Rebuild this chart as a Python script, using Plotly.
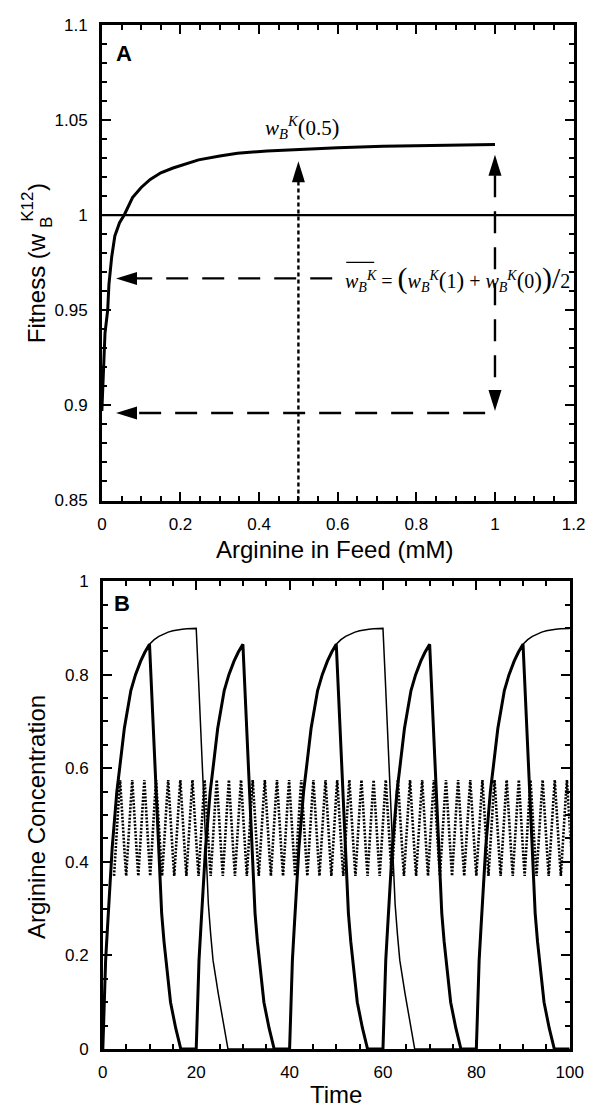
import plotly.graph_objects as go

W, H = 606, 1119

# ---------------- Panel A data ----------------
feed_x = [0, 0.002, 0.004, 0.008, 0.0148, 0.018, 0.025, 0.033, 0.045, 0.0575, 0.078, 0.1,
          0.123, 0.15, 0.181, 0.246, 0.3, 0.345, 0.42, 0.501, 0.6, 0.715, 0.85, 1.0]
fitness = [0.897, 0.906, 0.919, 0.938, 0.950, 0.9636, 0.978, 0.989, 0.996, 1.0003, 1.0092, 1.0145,
           1.0187, 1.0222, 1.0247, 1.029, 1.031, 1.0325, 1.0337, 1.0346, 1.0354, 1.0362, 1.0367, 1.0371]
k12_x = [0, 1.2]
k12_y = [1.0, 1.0]

half_feed = 0.5
w_half_tip = 1.0282      # tip of dotted arrow at 0.5 mM
full_feed = 1.0
w_one_tip = 1.0317       # tip of dashed arrow at 1 mM (upper)
w_zero = 0.896           # w(0)
w_mean = 0.9667          # mean of w(1), w(0)
mean_line_start = 0.586
zero_line_start = 0.975
arrow_tip_x = 0.036

# ---------------- Panel B data ----------------
rise_dt = [0, 0.3, 0.6, 1.0, 1.5, 2.0, 2.5, 3.0, 3.6, 4.6, 6.0, 7.0, 8.1, 9.0, 10.0,
           11, 12, 13, 14, 15, 16, 17, 18, 19, 20]
rise_val = [0, 0.10, 0.19, 0.26, 0.35, 0.43, 0.49, 0.55, 0.60, 0.685, 0.766, 0.80, 0.829, 0.848, 0.865,
            0.875, 0.882, 0.887, 0.891, 0.894, 0.896, 0.897, 0.898, 0.899, 0.899]
fall_short_dt = [0, 0.5, 1.0, 1.5, 2.0, 2.6, 3.1, 3.6, 4.5, 5.6, 6.7]
fall_short_val = [0.865, 0.76, 0.655, 0.55, 0.44, 0.29, 0.23, 0.18, 0.10, 0.045, 0]
fall_long_dt = [0, 0.5, 1.0, 1.5, 2.0, 2.6, 3.1, 3.6, 4.7, 5.7, 6.8]
fall_long_val = [0.899, 0.79, 0.68, 0.57, 0.45, 0.31, 0.245, 0.19, 0.12, 0.06, 0]
short_starts = [0, 20, 40, 60, 80]   # 10 on / 10 off
short_on = 10
long_starts = [0, 40, 80]            # 20 on / 20 off
long_on = 20

osc_peaks = [3.7, 6.3, 8.9, 11.4, 14.0, 16.6, 19.2, 21.8, 24.4, 27.0, 29.6, 32.1, 34.7, 37.3,
             39.9, 42.5, 45.1, 47.7, 50.2, 52.8, 55.4, 58.0, 60.6, 63.2, 65.8, 68.4, 70.9,
             73.5, 76.1, 78.7, 81.3, 83.9, 86.5, 89.1, 91.6, 94.2, 96.8, 99.4]
osc_phase = [0, 0.1, 0.2, 0.3, 0.4, 0.5, 0.6, 0.7, 0.8, 0.9, 1.0]
osc_shape = [0.575, 0.527, 0.484, 0.445, 0.407, 0.370, 0.418, 0.461, 0.500, 0.538, 0.575]

T_END = 100


def pulse_series(starts, on, fall_dt, fall_val):
    xs, ys = [], []
    for i, s in enumerate(starts):
        for d, v in zip(rise_dt, rise_val):
            if d <= on:
                xs.append(s + d)
                ys.append(v)
        if s + on < T_END:
            for d, v in zip(fall_dt[1:], fall_val[1:]):
                xs.append(s + on + d)
                ys.append(v)
        nxt = starts[i + 1] if i + 1 < len(starts) else T_END
        if xs[-1] < nxt:
            xs.append(nxt)
            ys.append(0)
    return xs, ys


def osc_series():
    xs, ys = [], []
    gap0 = osc_peaks[1] - osc_peaks[0]
    for ph, v in zip(osc_phase, osc_shape):
        if ph >= 0.5:
            xs.append(osc_peaks[0] - (1 - ph) * gap0)
            ys.append(v)
    for k, p in enumerate(osc_peaks):
        gap = (osc_peaks[k + 1] - p) if k + 1 < len(osc_peaks) else (p - osc_peaks[k - 1])
        for ph, v in zip(osc_phase[1:], osc_shape[1:]):
            xs.append(p + ph * gap)
            ys.append(v)
    return xs, ys


thick_x, thick_y = pulse_series(short_starts, short_on, fall_short_dt, fall_short_val)
thin_x, thin_y = pulse_series(long_starts, long_on, fall_long_dt, fall_long_val)
dot_x, dot_y = osc_series()

# ---------------- layout geometry (pixels) ----------------
A_left, A_right, A_top, A_bottom = 100, 587, 16, 500
B_left, B_right, B_top, B_bottom = 101, 583, 582, 1058
A_xr = [0, 1.2]
A_yr = [0.85, 1.1]
px_per_x = (A_right - A_left) / (A_xr[1] - A_xr[0])
px_per_y = (A_bottom - A_top) / (A_yr[1] - A_yr[0])
HEAD_L, HEAD_W = 21, 6.5

FONT = "Liberation Sans, Arial, Helvetica, sans-serif"
SERIF = "Liberation Serif, Times New Roman, serif"

fig = go.Figure()

# Panel A
fig.add_trace(go.Scatter(x=k12_x, y=k12_y, mode="lines", line=dict(color="black", width=2.2),
                         xaxis="x", yaxis="y", showlegend=False, hoverinfo="skip"))
fig.add_trace(go.Scatter(x=feed_x, y=fitness, mode="lines", line=dict(color="black", width=3),
                         xaxis="x", yaxis="y", showlegend=False))
dash_long = "22px,14px"
fig.add_trace(go.Scatter(x=[half_feed, half_feed], y=[A_yr[0], w_half_tip - HEAD_L / px_per_y],
                         mode="lines", line=dict(color="black", width=2.4, dash="4px,3px"),
                         xaxis="x", yaxis="y", showlegend=False, hoverinfo="skip"))
fig.add_trace(go.Scatter(x=[full_feed, full_feed], y=[w_one_tip - HEAD_L / px_per_y, w_zero + 0.001 + HEAD_L / px_per_y],
                         mode="lines", line=dict(color="black", width=2.4, dash=dash_long),
                         xaxis="x", yaxis="y", showlegend=False, hoverinfo="skip"))
fig.add_trace(go.Scatter(x=[mean_line_start, arrow_tip_x + HEAD_L / px_per_x], y=[w_mean, w_mean],
                         mode="lines", line=dict(color="black", width=2.4, dash=dash_long),
                         xaxis="x", yaxis="y", showlegend=False, hoverinfo="skip"))
fig.add_trace(go.Scatter(x=[zero_line_start, arrow_tip_x + HEAD_L / px_per_x], y=[w_zero, w_zero],
                         mode="lines", line=dict(color="black", width=2.4, dash=dash_long),
                         xaxis="x", yaxis="y", showlegend=False, hoverinfo="skip"))

# Panel B
fig.add_trace(go.Scatter(x=dot_x, y=dot_y, mode="lines", line=dict(color="black", width=2.6, dash="2px,1.5px"),
                         xaxis="x2", yaxis="y2", showlegend=False))
fig.add_trace(go.Scatter(x=thin_x, y=thin_y, mode="lines", line=dict(color="black", width=1.5),
                         xaxis="x2", yaxis="y2", showlegend=False))
fig.add_trace(go.Scatter(x=thick_x, y=thick_y, mode="lines", line=dict(color="black", width=3),
                         xaxis="x2", yaxis="y2", showlegend=False))


def head(xa, ya, direction):
    L, Wd = HEAD_L, HEAD_W
    if direction == "left":
        path = f"M0,0 L{L},{Wd} L{L},{-Wd} Z"
    elif direction == "up":
        path = f"M0,0 L{-Wd},{-L} L{Wd},{-L} Z"
    else:
        path = f"M0,0 L{-Wd},{L} L{Wd},{L} Z"
    return dict(type="path", xref="x", yref="y", xsizemode="pixel", ysizemode="pixel",
                xanchor=xa, yanchor=ya, path=path, fillcolor="black", line=dict(width=0), layer="above")


shapes = [
    head(half_feed, w_half_tip, "up"),
    head(full_feed, w_one_tip, "up"),
    head(full_feed, w_zero + 0.001, "down"),
    head(arrow_tip_x, w_mean, "left"),
    head(arrow_tip_x, w_zero, "left"),
]

axis_common = dict(showline=True, linewidth=2.6, linecolor="black", mirror="ticks", ticks="inside",
                   ticklen=9, tickwidth=2, tickcolor="black", showgrid=False, zeroline=False,
                   tickfont=dict(family=FONT, size=17, color="black"))
minor_common = dict(ticks="inside", ticklen=5, tickwidth=2, tickcolor="black", showgrid=False)

fig.update_layout(
    width=W, height=H, margin=dict(l=0, r=0, t=0, b=0),
    paper_bgcolor="white", plot_bgcolor="white", showlegend=False,
    xaxis=dict(domain=[A_left / W, A_right / W], range=A_xr, anchor="y", dtick=0.2, tick0=0,
               minor=dict(dtick=0.05, **minor_common), ticklabelstandoff=6, **axis_common),
    yaxis=dict(domain=[1 - A_bottom / H, 1 - A_top / H], range=A_yr, anchor="x", dtick=0.05, tick0=0.85,
               minor=dict(dtick=0.01, **minor_common), ticklabelstandoff=8, **axis_common),
    xaxis2=dict(domain=[B_left / W, B_right / W], range=[0, 100], anchor="y2", dtick=20, tick0=0,
                minor=dict(dtick=5, **minor_common), ticklabelstandoff=6, **axis_common),
    yaxis2=dict(domain=[1 - B_bottom / H, 1 - B_top / H], range=[0, 1], anchor="x2", dtick=0.2, tick0=0,
                minor=dict(dtick=0.05, **minor_common), ticklabelstandoff=8, **axis_common),
    shapes=shapes,
)

FS = 20
wbk = "<i>w</i><sub><i>B</i></sub><sup><i>K</i></sup>"
big = "<span style='font-size:30px'>{}</span>"
mid = "<span style='font-size:23px'>{}</span>"
formula = (f"{wbk} = {big.format('(')}{wbk}{mid.format('(')}1{mid.format(')')} + "
           f"{wbk}{mid.format('(')}0{mid.format(')')}{big.format(')')}{big.format('/')}2")
formula_x = 0.614


def ann(text, px, py, size, family=FONT, angle=0, xa="center", ya="middle"):
    return dict(text=text, x=px / W, y=1 - py / H, xref="paper", yref="paper", showarrow=False,
                xanchor=xa, yanchor=ya, textangle=angle, font=dict(family=family, size=size, color="black"))


annotations = [
    ann("<b>A</b>", 123, 45, 22),
    ann("<b>B</b>", 121, 605, 22),
    dict(text=f"{wbk}{mid.format('(')}0.5{mid.format(')')}", x=half_feed + 0.008, y=1.0458, xref="x", yref="y",
         xanchor="center", yanchor="middle", showarrow=False, font=dict(family=SERIF, size=FS + 1, color="black")),
    dict(text=formula, x=formula_x, y=w_mean, xref="x", yref="y", xanchor="left", yanchor="middle",
         showarrow=False, font=dict(family=SERIF, size=FS, color="black")),
    ann("Arginine in Feed (mM)", 340, 550, 24),
    ann("Time", 342, 1104, 24),
    ann("Arginine Concentration", 32, 822, 24, angle=-90),
    ann("Fitness (w", 32, 342, 24, angle=-90, ya="bottom"),
    ann("K12", 23, 201, 17, angle=-90),
    ann("B", 43, 217, 17, angle=-90),
    ann(")", 33, 181, 24, angle=-90),
]
fig.update_layout(annotations=annotations)

# overline on the mean symbol
fig.add_shape(type="line", xref="x", yref="y", xsizemode="pixel", ysizemode="pixel",
              xanchor=formula_x, yanchor=w_mean, x0=3, x1=31, y0=16, y1=16, line=dict(color="black", width=1.3))

fig.write_html("out.html")
